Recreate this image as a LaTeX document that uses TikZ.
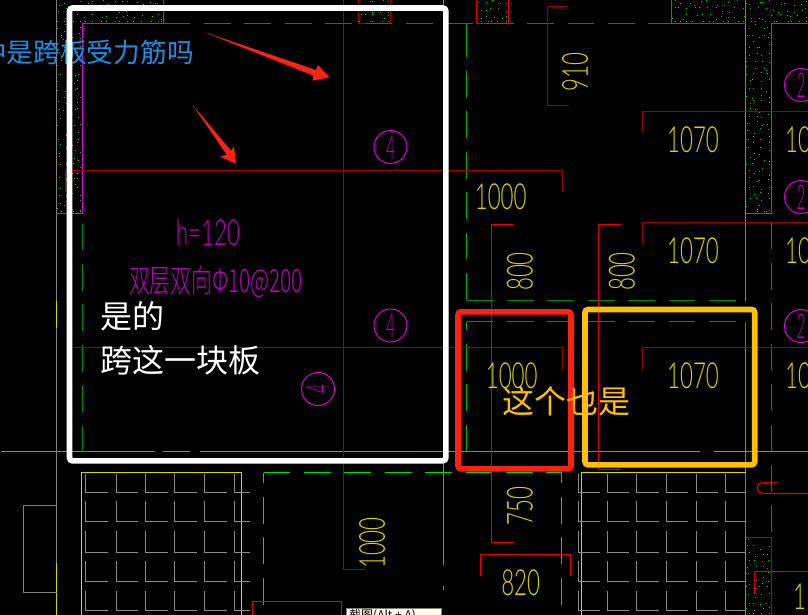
\documentclass[tikz,border=0pt]{standalone}
\usepackage{xcolor}
\usepackage{fontspec}
\usepackage{tikz}
\setmainfont{Liberation Sans}
\newfontfamily\cjk{Noto Sans CJK SC}
\newfontfamily\cjkcad[FakeStretch=0.65]{Noto Sans CJK SC Light}
\newfontfamily\cadfont[FakeStretch=0.62]{Lato Light}
\newfontfamily\ringfont[FakeStretch=0.45]{Lato Light}
\definecolor{cadred}{HTML}{A00000}
\definecolor{cadbright}{HTML}{E80000}
\definecolor{cadgreen}{HTML}{009000}
\definecolor{cadlime}{HTML}{00E000}
\definecolor{cadmag}{HTML}{E000E0}
\definecolor{cadpurple}{HTML}{900090}
\definecolor{cadyellow}{HTML}{D8D800}
\definecolor{cadgray}{HTML}{808080}
\definecolor{tilegray}{HTML}{8C8C8C}
\definecolor{markred}{HTML}{FF2212}
\definecolor{markorange}{HTML}{FFC000}
\definecolor{markblue}{HTML}{1A8FE3}
\definecolor{tipyellow}{HTML}{FFFFE1}

\newcommand{\wallfill}[4]{%
  \pgfmathsetmacro{\wxb}{#1+7}\pgfmathsetmacro{\wyb}{#2+7}%
  \foreach \wx in {#1,\wxb,...,#3}
    \foreach \wy in {#2,\wyb,...,#4}{
      \pgfmathsetmacro{\jx}{int(min(\wx+rnd*6,#3-2))}
      \pgfmathsetmacro{\jy}{int(min(\wy+rnd*6,#4-2))}
      \fill[cadlime] (\jx,\jy) rectangle ++(1,1);
    }}

\begin{document}
\begin{tikzpicture}[
  x=1pt, y=-1pt,
  redline/.style={draw=cadred, line width=1.2pt},
  brightline/.style={draw=cadbright, line width=1.1pt},
  wallline/.style={draw=cadmag, line width=1pt},
  greendash/.style={draw=cadgreen, line width=1pt, dash pattern=on 26.8pt off 13.6pt},
  limedash/.style={draw=cadlime, line width=1pt, dash pattern=on 26.8pt off 13.6pt},
  grayline/.style={draw=cadgray, line width=1pt},
  slabline/.style={draw=cadyellow, line width=1pt},
  tile/.style={draw=tilegray, line width=1pt},
  cadnum/.style={font=\cadfont\fontsize{36}{36}\selectfont, text=cadyellow, inner sep=0pt},
  cadnote/.style={font=\cjkcad\fontsize{32}{32}\selectfont, text=cadmag!85!black, inner sep=0pt},
  ring/.style={circle, draw=cadmag, line width=1pt, minimum size=33pt, inner sep=0pt,
               font=\ringfont\fontsize{34}{34}\selectfont, text=cadmag!85!black},
  markbox/.style={line width=5.6pt, rounded corners=3pt},
  marktext/.style={font=\cjk\fontsize{32}{42}\selectfont, inner sep=0pt, align=left},
  markarrow/.style={fill=markred},
]
  \useasboundingbox (0,0) rectangle (808,615);
  \clip (0,0) rectangle (808,615);
  \fill[black] (0,0) rectangle (808,615);

  % walls
  \pgfmathsetseed{11}
  \wallfill{56}{0}{163}{23}
  \wallfill{56}{23}{82}{213}
  \wallfill{358}{0}{390}{23}
  \wallfill{476}{0}{508}{23}
  \wallfill{671}{0}{808}{23}
  \wallfill{745}{23}{771}{213}
  \wallfill{745}{537}{771}{615}

  \begin{scope}[shift={(.5,.5)}]
  \draw[wallline] (163,0) -- (163,23) -- (82,23) -- (82,213) -- (56,213) -- (56,65);
  \draw[redline] (358,0) -- (358,23) -- (390,23) -- (390,0);
  \draw[brightline] (476,0) -- (476,23) -- (508,23) -- (508,0);
  \draw[wallline] (671,0) -- (671,23) -- (745,23);
  \draw[wallline] (808,23) -- (771,23) -- (771,213) -- (745,213) -- (745,60);
  \draw[cadpurple, line width=1pt] (745,615) -- (745,537) -- (771,537) -- (771,615);

  % axis and grid lines
  \draw[grayline] (56,0) -- (56,615);
  \draw[slabline] (56,300) -- (56,327);
  \draw[slabline] (56,562) -- (56,615);
  \draw[grayline] (0,451) -- (154,451);
  \draw[grayline] (199,451) -- (674,451);
  \draw[grayline] (713,451) -- (808,451);
  \draw[cadlime] (162,451) -- (189,451);
  \draw[cadlime] (414,451) -- (443,451);
  \draw[cadlime] (674,451) -- (699,451);
  \draw[cadlime] (713,451) -- (724,451);
  \draw[grayline] (745,0) -- (745,300);
  \draw[grayline] (745,321) -- (745,615);
  \draw[grayline] (443,0) -- (443,564);
  \draw[grayline] (443,585) -- (443,589);
  \draw[grayline] (56,505) -- (23,505) -- (23,592) -- (56,592);

  % slab edges
  \draw[greendash] (163,23) -- (745,23);
  \draw[greendash] (82,223) -- (82,451);
  \draw[cadlime!80!black, line width=1pt] (466,23) -- (466,30);
  \draw[limedash, cadlime!80!black] (466,30) -- (466,300);
  \draw[greendash] (466,300) -- (745,300);
  \draw[greendash] (466,321) -- (745,321);
  \draw[limedash, cadlime!80!black, dash phase=18pt] (466,321) -- (466,451);
  \draw[cadlime!80!black, line width=1pt] (745,321) -- (745,347);
  \draw[greendash] (771,222) -- (771,540);
  \draw[limedash] (263,472) -- (561,472);
  \draw[limedash, dash phase=16pt] (263,472) -- (263,605);
  \draw[limedash, dash phase=16pt] (561,472) -- (561,606);

  % rebar marks
  \draw[redline] (343,0) -- (343,569) -- (364,569);
  \draw[redline] (65,191) -- (65,170) -- (562,170) -- (562,191);
  \draw[redline] (72,347) -- (562,347) -- (562,369);
  \draw[redline] (642,132) -- (642,111) -- (808,111);
  \draw[redline] (642,243) -- (642,222) -- (808,222);
  \draw[redline] (642,369) -- (642,347) -- (808,347);
  \draw[redline] (567,6) -- (547,6) -- (547,105) -- (568,105);
  \draw[brightline] (513,224) -- (491,224) -- (491,542) -- (513,542);
  \draw[brightline] (620,224) -- (598,224) -- (598,469) -- (620,469);
  \draw[brightline] (480,575) -- (480,554) -- (570,554) -- (570,575);
  \draw[brightline] (252,615) -- (252,601) -- (341,601) -- (341,615);
  \draw[brightline] (777,482) -- (762,482) arc[start angle=270, end angle=90, radius=5.5] -- (808,493);
  \draw[brightline] (754,593) -- (754,571) -- (808,571);

  % tiled slabs
  \draw[slabline] (81,615) -- (81,472) -- (241,472) -- (241,615);
  \draw[slabline] (581,615) -- (581,472) -- (745,472);
  \foreach \rowtop/\rowbot in {473/492, 500/521, 530/552, 560/581, 590/610}{
    \foreach \colx/\colend in {85/107, 116/137, 145/167, 174/196, 204/226, 234/249,
                               578/599, 607/628, 636/658, 666/687, 696/717, 725/745}
      \draw[tile] (\colx,\rowtop) -- (\colx,\rowbot) -- (\colend,\rowbot);
  }
  \end{scope}

  % dimensions
  \node[cadnum, rotate=90] (dimA) at (575,72) {910};
  \node[cadnum] (dimB) at (693,140) {1070};
  \node[cadnum] (dimC) at (693,251) {1070};
  \node[cadnum] (dimD) at (693,376) {1070};
  \node[cadnum] (dimE) at (500.7,197) {1000};
  \node[cadnum] (dimF) at (511.7,376) {1000};
  \node[cadnum, rotate=90] (dimG) at (520,271.5) {800};
  \node[cadnum, rotate=90] (dimH) at (622,271.5) {800};
  \node[cadnum, rotate=90] (dimI) at (520,506) {750};
  \node[cadnum] (dimJ) at (520.7,583) {820};
  \node[cadnum, rotate=90] (dimK) at (372,543) {1000};
  \node[cadnum, anchor=west] (dimL) at (785,140) {10};
  \node[cadnum, anchor=west] (dimM) at (785,251) {10};
  \node[cadnum, anchor=west] (dimN) at (785,376) {10};
  \node[cadnum, anchor=west] (dimO) at (793,597) {11};

  % slab notes
  \node[cadnum, text=cadmag!85!black] (thick) at (208,233) {h=120};
  \node[cadnote] (rebar) at (216,282) {双层双向Φ10@200};
  \node[ring] (ringA) at (390.5,147) {4};
  \node[ring] (ringB) at (390.5,325.5) {4};
  \node[ring] (ringC) at (318,389) {\rotatebox{90}{4}};
  \node[ring] (ringD) at (801,85) {2};
  \node[ring] (ringE) at (801,197) {2};
  \node[ring] (ringF) at (801,326) {2};

  % tooltip
  \fill[tipyellow] (346,608) rectangle (441,615);
  \draw[cadgray, line width=.8pt] (346,615) -- (346,608) -- (441,608) -- (441,615);
  \node[font=\cjk\fontsize{12}{12}\selectfont, text=black, inner sep=0pt, anchor=north west] (tip) at (349,609.5) {截图(Alt + A)};

  % markup on top
  \node[marktext, text=markblue, font=\cjk\fontsize{26.7}{30}\selectfont, anchor=east] (askA) at (194,52) {中是跨板受力筋吗};
  \draw[markbox, draw=white] (69.5,8) rectangle (445.8,460.8);
  \draw[markbox, draw=markred] (458,311.8) rectangle (571,468.8);
  \draw[markbox, draw=markorange] (585,309.5) rectangle (754.7,464.8);
  \fill[markarrow] (204,32) -- (316,70) -- (318,65) -- (329.3,77.3) -- (312.7,80.7) -- (313,75.5) -- cycle;
  \fill[markarrow] (192.7,105) -- (231,150.7) -- (234,146.7) -- (236,163.7) -- (220,156.7) -- (226.7,154.7) -- cycle;
  \node[marktext, text=white, anchor=north west] (answerA) at (100.5,301) {是的\\[2pt]跨这一块板};
  \node[marktext, text=markorange, anchor=west] (answerB) at (502,401) {这个也是};
\end{tikzpicture}
\end{document}
